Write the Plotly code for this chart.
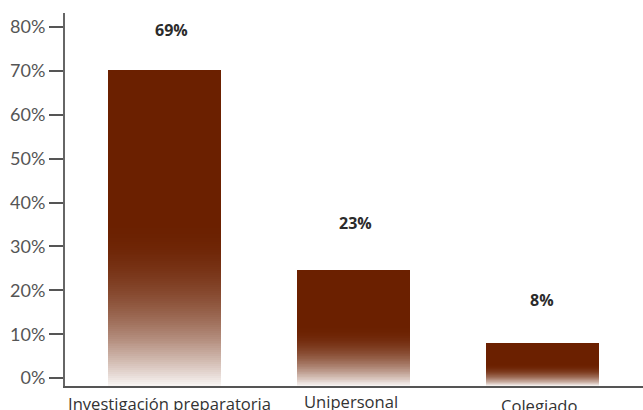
import plotly.graph_objects as go

categories = ["Investigación preparatoria", "Unipersonal", "Colegiado"]
bar_heights = [70.3, 24.5, 7.8]          # bar tops
bar_labels = ["69%", "23%", "8%"]
y_ticks = [0, 10, 20, 30, 40, 50, 60, 70, 80]

# styling
dark = (107, 32, 0)
y_min, y_max = -1.8, 83.2
n_steps = 160
label_shift = [(7, 40), (2, 48), (-1, 44)]
cat_shift = [(5, -17), (-3, -15), (-3, -19)]


def shade(f):
    # f = 0 at the bottom of the bar, 1 at the top
    w = 0.95 * max(0.0, 1 - f / 0.52) ** 2
    r, g, b = (round(c + (255 - c) * w) for c in dark)
    return f"rgb({r},{g},{b})"


fig = go.Figure()

# gradient bars: layered slices, each from its base up to the bar top
for i in range(n_steps):
    f = i / n_steps
    bases = [y_min + (h - y_min) * f for h in bar_heights]
    fig.add_trace(go.Bar(
        x=list(range(len(categories))),
        y=[h - b for h, b in zip(bar_heights, bases)],
        base=bases,
        width=0.6,
        marker=dict(color=shade(f), line=dict(width=0)),
        hoverinfo="skip",
        showlegend=False,
    ))

for i, (h, txt) in enumerate(zip(bar_heights, bar_labels)):
    fig.add_annotation(x=i, y=h, text=f"<b>{txt}</b>", showarrow=False,
                       xshift=label_shift[i][0], yshift=label_shift[i][1],
                       font=dict(family="Open Sans", size=16, color="#2b2b2b"))

for i, name in enumerate(categories):
    fig.add_annotation(x=i, y=0, yref="paper", text=name, showarrow=False,
                       xshift=cat_shift[i][0], yshift=cat_shift[i][1],
                       yanchor="middle",
                       font=dict(family="Open Sans", size=16.6, color="#333333"))

fig.update_layout(
    width=643, height=410,
    margin=dict(l=65, r=0, t=13, b=24),
    plot_bgcolor="white", paper_bgcolor="white",
    barmode="overlay", bargap=0,
    font=dict(family="Lato", size=18, color="#555555"),
)
fig.update_xaxes(range=[-0.528, 2.532], showticklabels=False, showgrid=False,
                 zeroline=False, showline=True, linecolor="#555555", linewidth=2,
                 ticks="")
fig.update_yaxes(range=[y_min, y_max], tickvals=y_ticks,
                 ticktext=[f"{v}%" for v in y_ticks], showgrid=False,
                 zeroline=False, showline=True, linecolor="#666666", linewidth=2,
                 ticks="outside", ticklen=14, tickwidth=2, tickcolor="#555555")

fig.write_html("out.html", config={"displayModeBar": False},
               post_script="document.body.style.margin='0';")
